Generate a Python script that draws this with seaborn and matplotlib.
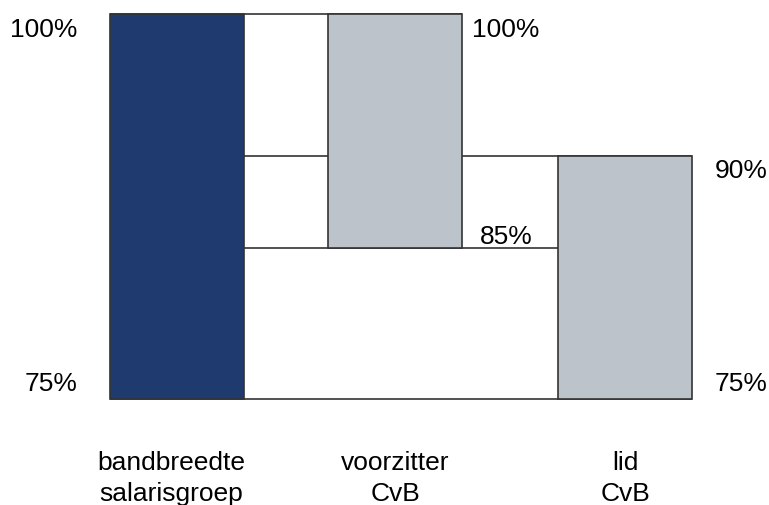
import matplotlib
matplotlib.use("Agg")
import matplotlib.pyplot as plt
import seaborn as sns

# salary band levels (% of maximum)
categories = ["bandbreedte\nsalarisgroep", "voorzitter\nCvB", "lid\nCvB"]
low = [75.0, 84.8, 75.0]
high = [100.0, 100.0, 90.8]
colors = ["#1F3A6E", "#BDC3CA", "#BDC3CA"]

sns.set_theme(style="white")
plt.rcParams["font.family"] = ["Liberation Sans", "DejaVu Sans"]
plt.rcParams["text.color"] = "black"

fig = plt.figure(figsize=(7.69, 5.05), dpi=100)
ax = fig.add_axes([0, 0, 1, 1])
ax.set_xlim(0, 769)
ax.set_ylim(68.12, 100.91)
ax.axis("off")

centers = [176.5, 395, 625]
width = 134
edge = "#333333"
lw = 1.2

ax.bar(centers, [h - l for h, l in zip(high, low)], bottom=low, width=width,
       color=colors, edgecolor=edge, linewidth=lw, zorder=3)

left = [c - width / 2 for c in centers]
right = [c + width / 2 for c in centers]

# connecting lines between the bands
ax.hlines(high[0], left[0], right[1], color=edge, lw=lw, zorder=2)
ax.hlines(high[2], right[0], left[1], color=edge, lw=lw, zorder=2)
ax.hlines(high[2], right[1], right[2], color=edge, lw=lw, zorder=2)
ax.hlines(low[1], right[0], left[2], color=edge, lw=lw, zorder=2)
ax.hlines(low[0], left[0], right[2], color=edge, lw=lw, zorder=2)

fs = 19
ax.text(left[0] - 32, high[0] - 1.05, f"{high[0]:.0f}%", ha="right", va="center", fontsize=fs)
ax.text(left[0] - 32, low[0] + 1.0, f"{low[0]:.0f}%", ha="right", va="center", fontsize=fs)
ax.text(right[1] + 10, high[1] - 1.05, f"{high[1]:.0f}%", ha="left", va="center", fontsize=fs)
ax.text((right[1] + left[2]) / 2 - 4, low[1] + 0.7, "85%", ha="center", va="center", fontsize=fs)
ax.text(right[2] + 23, high[2] - 1.0, "90%", ha="left", va="center", fontsize=fs)
ax.text(right[2] + 23, low[0] + 1.0, f"{low[0]:.0f}%", ha="left", va="center", fontsize=fs)

label_x = [171, 395, 625]
for x, lab in zip(label_x, categories):
    ax.text(x, 69.84, lab, ha="center", va="center", fontsize=fs, linespacing=1.35)

fig.savefig("out.png", dpi=100)
